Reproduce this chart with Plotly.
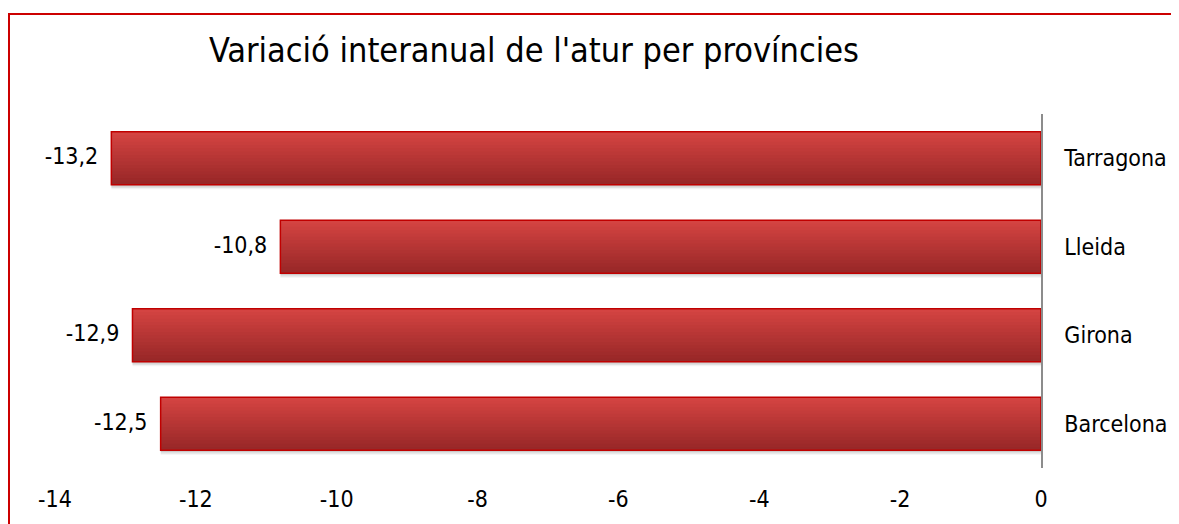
import plotly.graph_objects as go

title = "Variació interanual de l'atur per províncies"
provinces = ["Barcelona", "Girona", "Lleida", "Tarragona"]
values = [-12.5, -12.9, -10.8, -13.2]
tick_vals = [-14, -12, -10, -8, -6, -4, -2, 0]

labels = [f"{v:.1f}".replace(".", ",") for v in values]

FONT = "DejaVu Sans Condensed, Roboto, sans-serif"
W, H = 1171, 516
ML, MR, MT, MB = 47, 138, 106, 56
PW = W - ML - MR
PH = H - MT - MB

fig = go.Figure()

BAR_W = 0.6
# soft shadow under the bars
for k, a in enumerate([0.05, 0.07, 0.09]):
    fig.add_trace(go.Bar(
        y=provinces, x=values, orientation="h",
        width=BAR_W, offset=-BAR_W / 2 - 0.05 + 0.015 * k,
        marker=dict(color=f"rgba(0,0,0,{a})", line=dict(width=0)),
        hoverinfo="skip", showlegend=False))

# vertical gradient built from overlapping stripes (bottom dark -> top light)
n = 16
top = (212, 68, 66)
bot = (152, 40, 40)
step = BAR_W / n
for i in range(n):
    t = i / (n - 1)
    c = tuple(int(bot[j] + (top[j] - bot[j]) * t) for j in range(3))
    fig.add_trace(go.Bar(
        y=provinces, x=values, orientation="h",
        width=BAR_W - i * step, offset=-BAR_W / 2 + i * step,
        marker=dict(color=f"rgb{c}", line=dict(width=0)),
        hoverinfo="skip", showlegend=False))

# outline
fig.add_trace(go.Bar(
    y=provinces, x=values, orientation="h",
    width=BAR_W, offset=-BAR_W / 2,
    marker=dict(color="rgba(0,0,0,0)", line=dict(color="#c00000", width=1.5)),
    hoverinfo="skip", showlegend=False))

# value labels
fig.add_trace(go.Scatter(
    y=provinces, x=values, mode="text",
    text=[l + "  " for l in labels], textposition="middle left",
    textfont=dict(size=23, color="black", family=FONT),
    cliponaxis=False, hoverinfo="skip", showlegend=False))

fig.update_layout(
    width=W, height=H,
    margin=dict(l=ML, r=MR, t=MT, b=MB),
    paper_bgcolor="white", plot_bgcolor="white",
    barmode="overlay",
    title=dict(text=title, x=526 / W, xanchor="center", y=1 - 42 / H, yanchor="middle",
               font=dict(size=34, color="black", family=FONT)),
    font=dict(family=FONT, color="black", size=23),
    xaxis=dict(range=[-14, 0], tickvals=tick_vals,
               ticktext=[str(v) if v == 0 else "-" + str(-v) for v in tick_vals],
               showgrid=False, zeroline=False, showline=False, ticks="",
               ticklabelstandoff=15, tickfont=dict(size=23)),
    yaxis=dict(side="right", range=[-0.5, 3.5], showgrid=False, zeroline=False,
               showline=True, linecolor="#8c8c8c", linewidth=1.5, ticks="",
               ticklabelstandoff=17, tickfont=dict(size=23)),
    shapes=[dict(type="rect", xref="paper", yref="paper",
                 x0=(1 - ML) / PW, x1=1.3, y0=-0.4, y1=1 + (MT - 6) / PH,
                 line=dict(color="#cc0000", width=2), fillcolor="rgba(0,0,0,0)",
                 layer="above")],
)

fig.write_html("out.html")
